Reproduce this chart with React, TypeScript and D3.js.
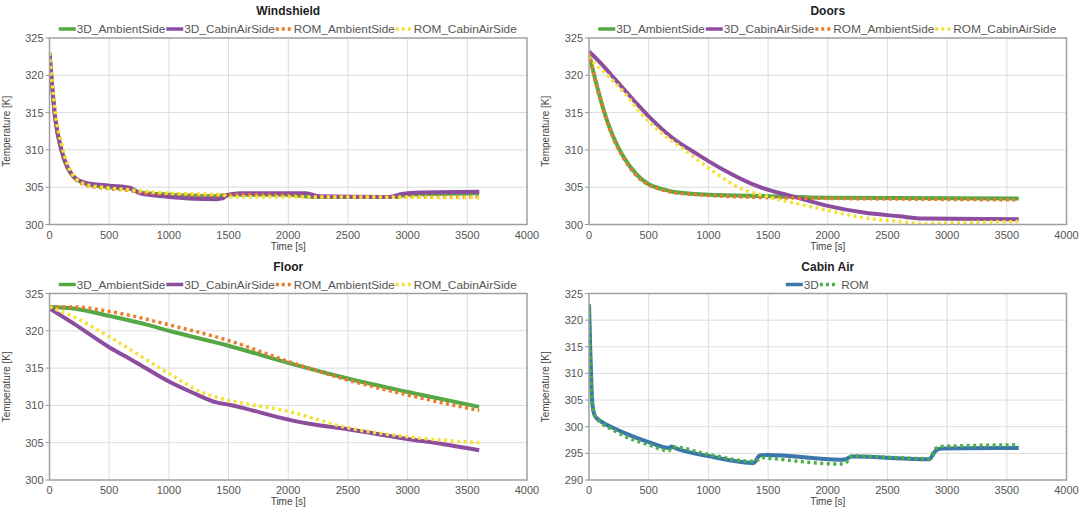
import React, { useEffect, useRef } from 'react';
import * as d3 from 'd3';

// every series is a list of [time s, temperature K] pairs
type Pt = [number, number];

const xTicks = [0, 500, 1000, 1500, 2000, 2500, 3000, 3500, 4000];

// Windshield
const windAmbient3D: Pt[] = [[0, 323], [25, 318], [50, 314], [100, 310], [150, 307.6], [200, 306.4], [300, 305.5], [500, 305.0], [700, 304.7], [750, 304.3], [1000, 304.0], [1400, 303.8], [1500, 304.0], [2000, 304.0], [2200, 303.7], [2900, 303.7], [3000, 304.0], [3600, 304.2]];
const windCabin3D: Pt[] = [[0, 323], [25, 318], [50, 314], [100, 310], [200, 306.5], [300, 305.6], [500, 305.2], [680, 304.9], [750, 304.2], [1000, 303.7], [1400, 303.4], [1450, 303.5], [1500, 304.0], [1600, 304.2], [2150, 304.2], [2250, 303.8], [2850, 303.7], [2950, 304.1], [3100, 304.3], [3600, 304.4]];
const windAmbientROM: Pt[] = [[0, 323], [25, 318.3], [50, 314.6], [100, 310.6], [150, 307.9], [200, 306.4], [300, 305.3], [500, 304.8], [700, 304.5], [750, 304.3], [1000, 304.1], [1450, 303.9], [1500, 304.0], [2000, 303.9], [2200, 303.7], [3600, 303.7]];
const windCabinROM: Pt[] = [[0, 323], [25, 318.5], [50, 314.9], [100, 310.9], [150, 308.1], [200, 306.6], [300, 305.4], [500, 304.9], [700, 304.6], [1000, 304.2], [1450, 304.0], [1500, 303.7], [2000, 303.7], [3600, 303.6]];

// Doors
const doorAmbient3D: Pt[] = [[0, 323], [50, 319.6], [100, 316.6], [150, 314.0], [200, 311.9], [250, 310.2], [300, 308.8], [400, 306.7], [500, 305.4], [600, 304.8], [700, 304.4], [1000, 304.0], [1500, 303.8], [2000, 303.6], [3600, 303.5]];
const doorCabin3D: Pt[] = [[0, 323.2], [100, 321.6], [200, 319.8], [300, 318.0], [400, 316.2], [500, 314.5], [700, 311.6], [900, 309.5], [1000, 308.5], [1200, 306.7], [1400, 305.2], [1700, 303.8], [2000, 302.5], [2300, 301.6], [2600, 301.1], [2800, 300.8], [3600, 300.7]];
const doorAmbientROM: Pt[] = [[0, 323], [50, 319.4], [100, 316.4], [150, 313.8], [200, 311.7], [250, 310.0], [300, 308.6], [400, 306.5], [500, 305.3], [600, 304.7], [700, 304.3], [1000, 303.9], [1500, 303.6], [2000, 303.5], [3600, 303.3]];
const doorCabinROM: Pt[] = [[0, 322.5], [50, 321.5], [100, 320.8], [200, 319.3], [300, 317.6], [430, 315.0], [600, 312.4], [800, 310.0], [1000, 307.6], [1250, 305.0], [1500, 303.7], [1800, 302.6], [2000, 301.9], [2300, 300.9], [2600, 300.4], [2800, 300.1], [3000, 300.2], [3600, 300.4]];

// Floor
const floorAmbient3D: Pt[] = [[0, 323.2], [200, 323.0], [500, 322.0], [800, 320.9], [1000, 320.0], [1500, 318.0], [2000, 315.7], [2500, 313.6], [3000, 311.8], [3600, 309.8]];
const floorCabin3D: Pt[] = [[0, 323.0], [200, 321.0], [500, 317.8], [700, 316.0], [1000, 313.2], [1200, 311.7], [1400, 310.4], [1500, 310.1], [2000, 308.1], [2150, 307.6], [2500, 306.8], [3000, 305.5], [3300, 304.8], [3600, 304.0]];
const floorAmbientROM: Pt[] = [[0, 323.2], [200, 323.2], [500, 322.6], [800, 321.6], [1000, 320.8], [1500, 318.7], [2000, 315.9], [2500, 313.4], [3000, 311.4], [3600, 309.3]];
const floorCabinROM: Pt[] = [[0, 323.2], [200, 321.9], [500, 319.2], [1000, 314.3], [1300, 311.6], [1420, 311.0], [2000, 309.2], [2500, 307.0], [3000, 305.8], [3600, 305.0]];

// Cabin air
const cabin3D: Pt[] = [[0, 323], [10, 315], [20, 308], [30, 304], [50, 302], [100, 301], [200, 299.8], [300, 298.8], [500, 297.1], [670, 296.0], [690, 296.3], [710, 296.1], [1000, 294.5], [1380, 293.2], [1430, 294.6], [1500, 294.7], [2100, 293.8], [2150, 293.9], [2200, 294.4], [2850, 293.9], [2900, 295.4], [2950, 295.9], [3600, 296.0]];
const cabinROM: Pt[] = [[0, 323], [10, 314], [20, 307], [30, 303.5], [50, 302], [100, 300.8], [200, 299.4], [300, 298.2], [500, 296.6], [670, 295.5], [700, 296.2], [1000, 294.8], [1370, 293.5], [1420, 293.8], [1450, 294.2], [1500, 294.1], [2100, 293.0], [2150, 293.2], [2200, 294.5], [2850, 294.0], [2900, 295.8], [2950, 296.3], [3600, 296.6]];

const GREEN = '#55a845';
const PURPLE = '#8c4d9f';
const ORANGE = '#ea7b28';
const YELLOW = '#f4e23a';
const BLUE = '#3b77ab';
const GREEN_DOT = '#4caf46';

interface Series { name: string; data: Pt[]; color: string; dotted: boolean; }
interface Panel { title: string; x: number; y: number; yDomain: [number, number]; series: Series[]; }

const panels: Panel[] = [
  {
    title: 'Windshield', x: 49.5, y: 38, yDomain: [300, 325],
    series: [
      { name: '3D_AmbientSide', data: windAmbient3D, color: GREEN, dotted: false },
      { name: '3D_CabinAirSide', data: windCabin3D, color: PURPLE, dotted: false },
      { name: 'ROM_AmbientSide', data: windAmbientROM, color: ORANGE, dotted: true },
      { name: 'ROM_CabinAirSide', data: windCabinROM, color: YELLOW, dotted: true },
    ],
  },
  {
    title: 'Doors', x: 589, y: 38, yDomain: [300, 325],
    series: [
      { name: '3D_AmbientSide', data: doorAmbient3D, color: GREEN, dotted: false },
      { name: '3D_CabinAirSide', data: doorCabin3D, color: PURPLE, dotted: false },
      { name: 'ROM_AmbientSide', data: doorAmbientROM, color: ORANGE, dotted: true },
      { name: 'ROM_CabinAirSide', data: doorCabinROM, color: YELLOW, dotted: true },
    ],
  },
  {
    title: 'Floor', x: 49.5, y: 293.5, yDomain: [300, 325],
    series: [
      { name: '3D_AmbientSide', data: floorAmbient3D, color: GREEN, dotted: false },
      { name: '3D_CabinAirSide', data: floorCabin3D, color: PURPLE, dotted: false },
      { name: 'ROM_AmbientSide', data: floorAmbientROM, color: ORANGE, dotted: true },
      { name: 'ROM_CabinAirSide', data: floorCabinROM, color: YELLOW, dotted: true },
    ],
  },
  {
    title: 'Cabin Air', x: 589, y: 293.5, yDomain: [290, 325],
    series: [
      { name: '3D', data: cabin3D, color: BLUE, dotted: false },
      { name: ' ROM', data: cabinROM, color: GREEN_DOT, dotted: true },
    ],
  },
];

const plotW = 477.5;
const plotH = 186.5;
const font = 'Liberation Sans, Arial, sans-serif';

export default function App() {
  const ref = useRef<SVGSVGElement>(null);

  useEffect(() => {
    const svg = d3.select(ref.current);
    svg.selectAll('*').remove();
    svg.append('rect').attr('width', 1080).attr('height', 514).attr('fill', '#fff');

    panels.forEach(p => {
      const g = svg.append('g').attr('transform', `translate(${p.x},${p.y})`);
      const x = d3.scaleLinear().domain([0, 4000]).range([0, plotW]);
      const y = d3.scaleLinear().domain(p.yDomain).range([plotH, 0]);
      const yTicks = d3.range(p.yDomain[0], p.yDomain[1] + 0.1, 5);

      // grid
      g.selectAll('.vg').data(xTicks.slice(1, -1)).join('line')
        .attr('x1', d => x(d)).attr('x2', d => x(d)).attr('y1', 0).attr('y2', plotH)
        .attr('stroke', '#dcdcdc').attr('stroke-width', 1);
      g.selectAll('.hg').data(yTicks.slice(1, -1)).join('line')
        .attr('y1', d => y(d)).attr('y2', d => y(d)).attr('x1', 0).attr('x2', plotW)
        .attr('stroke', '#dcdcdc').attr('stroke-width', 1);

      // tick labels
      g.selectAll('.xt').data(xTicks).join('text')
        .attr('x', d => x(d)).attr('y', plotH + 14).attr('text-anchor', 'middle')
        .attr('font-family', font).attr('font-size', 11).attr('fill', '#555')
        .text(d => d);
      g.selectAll('.ytm').data(yTicks).join('line')
        .attr('x1', -4).attr('x2', 0).attr('y1', d => y(d)).attr('y2', d => y(d))
        .attr('stroke', '#999').attr('stroke-width', 1);
      g.selectAll('.yt').data(yTicks).join('text')
        .attr('x', -6).attr('y', d => y(d) + 4).attr('text-anchor', 'end')
        .attr('font-family', font).attr('font-size', 11).attr('fill', '#555')
        .text(d => d);

      // axis titles
      g.append('text').attr('x', plotW / 2).attr('y', plotH + 25).attr('text-anchor', 'middle')
        .attr('font-family', font).attr('font-size', 10).attr('fill', '#444').text('Time [s]');
      g.append('text').attr('transform', `translate(${-40},${plotH / 2}) rotate(-90)`)
        .attr('text-anchor', 'middle').attr('font-family', font).attr('font-size', 10)
        .attr('fill', '#444').text('Temperature [K]');

      // series, clipped to the plot frame
      const clipId = `clip-${p.title.replace(/\s/g, '')}`;
      g.append('clipPath').attr('id', clipId).append('rect')
        .attr('x', 0).attr('y', -3).attr('width', plotW).attr('height', plotH + 3);
      const line = d3.line<Pt>().x(d => x(d[0])).y(d => y(d[1])).curve(d3.curveMonotoneX);
      const lines = g.append('g').attr('clip-path', `url(#${clipId})`);
      p.series.forEach(s => {
        lines.append('path').attr('d', line(s.data) ?? '')
          .attr('fill', 'none').attr('stroke', s.color)
          .attr('stroke-width', s.dotted ? 3.5 : 4)
          .attr('stroke-dasharray', s.dotted ? '3 3.5' : null)
          .attr('stroke-linejoin', 'round');
      });

      // frame
      g.append('rect').attr('width', plotW).attr('height', plotH)
        .attr('fill', 'none').attr('stroke', '#a0a0a0').attr('stroke-width', 1.5);

      // title
      g.append('text').attr('x', plotW / 2).attr('y', -23).attr('text-anchor', 'middle')
        .attr('font-family', font).attr('font-size', 12).attr('font-weight', 'bold')
        .attr('fill', '#222').text(p.title);

      // legend, centred over the plot
      const leg = g.append('g');
      let cx = 0;
      p.series.forEach(s => {
        leg.append('line').attr('x1', cx).attr('x2', cx + 17).attr('y1', -9).attr('y2', -9)
          .attr('stroke', s.color).attr('stroke-width', 3.5)
          .attr('stroke-dasharray', s.dotted ? '3 3' : null);
        const t = leg.append('text').attr('x', cx + 18).attr('y', -5)
          .attr('font-family', font).attr('font-size', 11.8).attr('fill', '#555')
          .attr('xml:space', 'preserve').text(s.name);
        const w = (t.node() as SVGTextElement).getComputedTextLength();
        cx += 18 + w + 1;
      });
      leg.attr('transform', `translate(${plotW / 2 - cx / 2},0)`);
    });
  }, []);

  return (
    <svg ref={ref} width={1080} height={514}
      style={{ position: 'absolute', left: 0, top: 0, display: 'block' }} />
  );
}
